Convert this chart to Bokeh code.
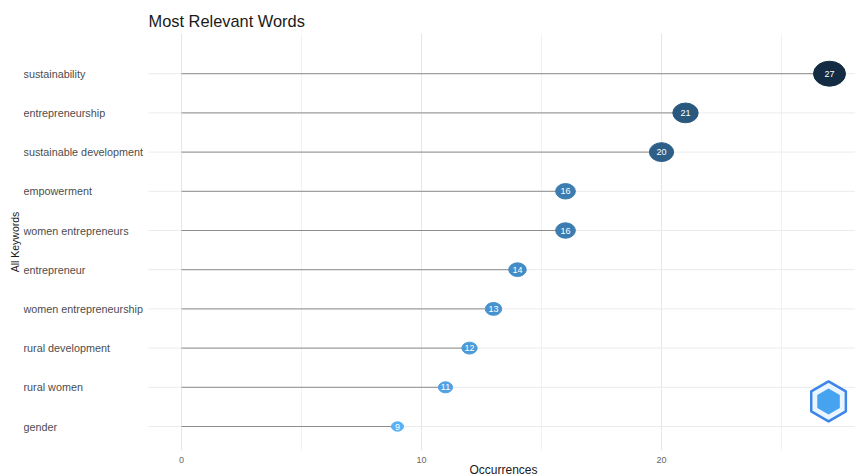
from bokeh.plotting import figure
from bokeh.models import ColumnDataSource, FixedTicker, Range1d, Title
from bokeh.core.properties import value
from bokeh.embed import file_html
from bokeh.resources import INLINE

keywords = ["sustainability", "entrepreneurship", "sustainable development",
            "empowerment", "women entrepreneurs", "entrepreneur",
            "women entrepreneurship", "rural development", "rural women", "gender"]
occurrences = [27, 21, 20, 16, 16, 14, 13, 12, 11, 9]
x_ticks = [0, 10, 20]
x_minor_ticks = [5, 15, 25]

FONT = "Liberation Sans"
n = len(keywords)
ypos = [n - i for i in range(n)]  # top to bottom

lo, hi = min(occurrences), max(occurrences)
c_lo = (0x56, 0xB1, 0xF7)
c_hi = (0x13, 0x2B, 0x43)

def col(v):
    t = (v - lo) / (hi - lo)
    r, g, b = (round(a + (b_ - a) * t) for a, b_ in zip(c_lo, c_hi))
    return "#%02x%02x%02x" % (r, g, b)

colors = [col(v) for v in occurrences]
widths = [12 + (v - lo) * 20.0 / (hi - lo) for v in occurrences]
heights = [w * 0.78 for w in widths]

src = ColumnDataSource(dict(
    kw=keywords, occ=occurrences, y=ypos, zero=[0] * n,
    col=colors, w=widths, h=heights, lab=[str(v) for v in occurrences],
))

W, H = 855, 476
frame_left = 23
frame_top = 33
frame_bottom_pad = 26
px_per_unit = 24.0
x0_px = 181 - frame_left  # pixel of x=0 inside frame
x_start = -x0_px / px_per_unit
x_end = x_start + (W - frame_left) / px_per_unit
row_px = 39.2
frame_h = H - frame_top - frame_bottom_pad
y_start = 1 - 24 / row_px
y_end = y_start + frame_h / row_px
panel_left = (148 - 181) / px_per_unit

p = figure(width=W, height=H, output_backend="svg", toolbar_location=None,
           x_range=Range1d(x_start, x_end), y_range=Range1d(y_start, y_end),
           min_border_left=frame_left, min_border_right=0,
           min_border_top=frame_top, min_border_bottom=frame_bottom_pad,
           title="Most Relevant Words")
p.outline_line_color = None
p.background_fill_color = "white"
p.border_fill_color = "white"

p.title.text_font = FONT
p.title.text_font_size = "16.4px"
p.title.text_font_style = "normal"
p.title.text_color = "#1a1a1a"
p.title.offset = 148 - frame_left
p.title.standoff = 7

p.yaxis.visible = False
p.ygrid.grid_line_color = None

p.xaxis.ticker = FixedTicker(ticks=x_ticks, minor_ticks=x_minor_ticks)
p.xaxis.axis_line_color = None
p.xaxis.major_tick_line_color = None
p.xaxis.minor_tick_line_color = None
p.xaxis.major_tick_out = 0
p.xaxis.minor_tick_out = 0
p.xaxis.major_label_text_font = FONT
p.xaxis.major_label_text_font_size = "9px"
p.xaxis.major_label_text_color = "#666666"
p.xaxis.major_label_standoff = 6
p.xgrid.grid_line_color = "#e6e6e6"
p.xgrid.grid_line_width = 1
p.xgrid.minor_grid_line_color = "#ececec"
p.xgrid.minor_grid_line_width = 0.7

# horizontal grid lines across the panel
p.segment(x0=panel_left, x1=x_end, y0="y", y1="y", source=src,
          line_color="#ebebeb", line_width=1)
# lollipop sticks
p.segment(x0="zero", x1="occ", y0="y", y1="y", source=src,
          line_color="#8c8c8c", line_width=1)
p.ellipse(x="occ", y="y", width="w", height="h", width_units="screen",
          height_units="screen", source=src, fill_color="col", line_color="col")
p.text(x="occ", y="y", text="lab", source=src, text_color="white",
       text_font=value(FONT), text_font_size="9px", text_align="center",
       text_baseline="middle")
# keyword labels (left-aligned)
p.text(x=x_start, y="y", text="kw", source=src, x_offset=0, text_color="#4d4d4d",
       text_font=value(FONT), text_font_size="10.8px", text_align="left",
       text_baseline="middle")

# logo-like hexagon mark
p.scatter(x=[26.96], y=[1.64], marker="hex", size=40, angle=1.5708,
          fill_color="#eaf5ff", line_color="#3d86e8", line_width=2.5)
p.scatter(x=[26.96], y=[1.64], marker="hex", size=26, angle=1.5708,
          fill_color="#45a3f0", line_color=None)

p.add_layout(Title(text="Occurrences", text_font=FONT, text_font_size="12px",
                   text_font_style="normal", text_color="#1a1a1a", align="left",
                   vertical_align="top", offset=505 - frame_left - 36,
                   standoff=-6), "below")
p.add_layout(Title(text="All Keywords", text_font=FONT, text_font_size="10.5px",
                   text_font_style="normal", text_color="#1a1a1a", align="center",
                   standoff=6), "left")

open("out.html", "w").write(file_html(p, INLINE))
